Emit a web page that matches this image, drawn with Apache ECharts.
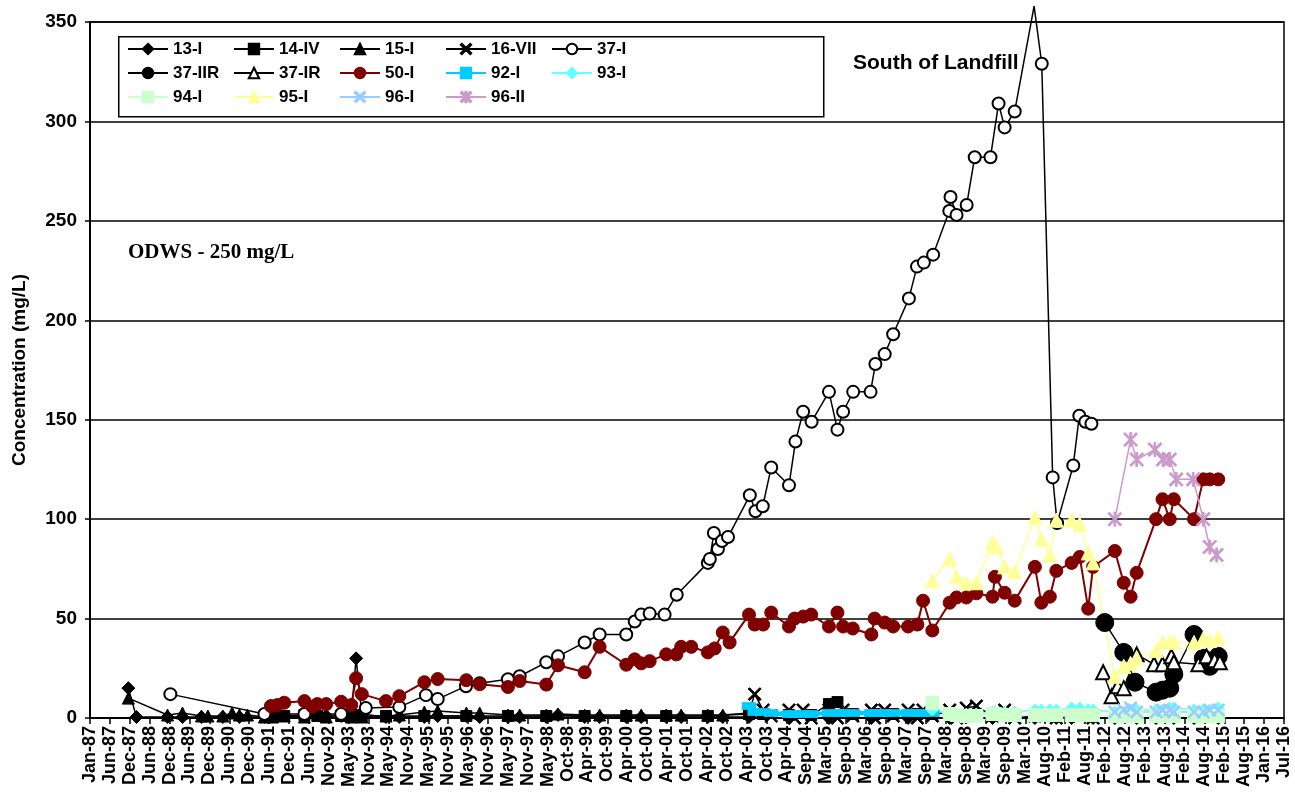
<!DOCTYPE html>
<html>
<head>
    <meta charset="utf-8">
    <title>South of Landfill</title>
    <script src="https://cdn.jsdelivr.net/npm/echarts/dist/echarts.min.js"></script>
    <style>
        body { margin: 0; background: #fff; }
    </style>
</head>
<body>
    <div id="main" style="width: 1295px;height:806px;"></div>
    <script type="text/javascript">
        // sample dates are decimal years, values in mg/L
        const s13I = [[1987.95, 15], [1988.15, 0.5], [1988.92, 0.5], [1989.29, 0.5], [1989.76, 0.5], [1990.29, 0.5], [1990.7, 0.5],
            [1991.32, 0.5], [1991.64, 1], [1992.31, 1], [1992.85, 1], [1993.22, 1], [1993.47, 1], [1993.59, 30], [1993.73, 2],
            [1994.33, 0.5], [1994.66, 0.5], [1995.28, 0.5], [1995.61, 1], [1996.32, 1], [1996.65, 0.5], [1997.35, 0.5], [1997.64, 0.5],
            [1998.3, 0.5], [1998.59, 1.5], [1999.25, 0.5], [1999.62, 0.5], [2000.28, 0.5], [2000.65, 0.5], [2001.27, 0.5], [2001.64, 0.5],
            [2002.3, 0.5], [2002.67, 0.5], [2003.32, 0.5], [2004.31, 0], [2005.3, 0], [2006.35, 0], [2007.26, 0], [2008.29, 0],
            [2009.35, 0], [2010.4, 0], [2010.93, 0], [2011.31, 0], [2011.84, 0], [2012.38, 0], [2012.92, 0], [2013.4, 0],
            [2013.84, 0], [2014.34, 0], [2014.94, 0]];
        const s14IV = [[1991.48, 1], [1991.81, 1], [1992.31, 1.5], [1992.63, 1], [1993.22, 1], [1993.47, 1.5], [1993.73, 1],
            [1994.33, 1], [1995.28, 1], [1996.32, 1], [1997.35, 1], [1998.3, 1], [1999.25, 1], [2000.28, 1], [2001.27, 1],
            [2002.3, 1], [2003.32, 2], [2003.67, 2], [2004.31, 1.5], [2004.86, 1.5], [2005.3, 7], [2005.51, 8], [2005.89, 2],
            [2006.43, 2], [2006.89, 2], [2007.49, 2], [2007.86, 2]];
        const s15I = [[1987.95, 10], [1988.92, 1.5], [1989.29, 2.5], [1989.76, 1], [1989.92, 1], [1990.29, 1], [1990.52, 2.5],
            [1990.7, 1.5], [1990.9, 1.5], [1991.32, 0.5], [1991.52, 0.5], [1991.81, 1], [1992.31, 0.5], [1992.85, 0.5],
            [1993.47, 0.5], [1993.73, 0.5], [1994.33, 1], [1994.66, 1.5], [1995.28, 3], [1995.61, 3.5], [1996.32, 2.5],
            [1996.65, 2.5], [1997.35, 1.5], [1997.64, 1.5], [1998.3, 1.5], [1998.59, 2], [1999.25, 1.5], [1999.62, 1.5],
            [2000.28, 1.5], [2000.65, 1.5], [2001.27, 1.5], [2001.64, 1.5], [2002.3, 1.5], [2002.67, 1.5], [2003.32, 2.5]];
        const s16VII = [[2003.32, 3], [2003.46, 12], [2003.67, 4], [2003.87, 1], [2004.31, 4], [2004.45, 0], [2004.66, 4],
            [2004.86, 0], [2005.3, 4], [2005.51, 0], [2005.65, 4], [2005.89, 1], [2006.35, 4], [2006.43, 0], [2006.68, 4],
            [2006.89, 1], [2007.26, 4], [2007.49, 0], [2007.63, 4], [2007.86, 1], [2008.29, 4], [2008.46, 0], [2008.7, 5],
            [2008.95, 6], [2009.35, 1], [2009.65, 4], [2009.9, 0], [2010.4, 1], [2010.93, 0], [2011.51, 1], [2011.84, 0]];
        const s37I = [[1988.99, 12], [1991.32, 2], [1992.31, 2], [1993.22, 2], [1993.83, 5], [1994.66, 5.5], [1995.32, 11.5],
            [1995.61, 9.5], [1996.31, 16], [1996.65, 17.5], [1997.35, 19.5], [1997.64, 21], [1998.3, 28], [1998.59, 31],
            [1999.25, 38], [1999.62, 42], [2000.28, 42], [2000.49, 48.5], [2000.65, 52], [2000.86, 52.5], [2001.23, 52],
            [2001.53, 62], [2002.3, 78], [2002.35, 80], [2002.45, 93], [2002.55, 85], [2002.65, 89], [2002.8, 91],
            [2003.34, 112], [2003.48, 104], [2003.66, 106.5], [2003.87, 126], [2004.31, 117], [2004.47, 139], [2004.66, 154],
            [2004.87, 149], [2005.3, 164], [2005.51, 145], [2005.65, 154], [2005.9, 164], [2006.33, 164], [2006.45, 178],
            [2006.68, 183], [2006.89, 193], [2007.28, 211], [2007.48, 227], [2007.65, 229], [2007.88, 233], [2008.28, 255],
            [2008.31, 262], [2008.46, 253], [2008.71, 258], [2008.91, 282], [2009.3, 282], [2009.5, 309], [2009.65, 297],
            [2009.9, 305], [2010.38, 358], [2010.57, 329], [2010.84, 121], [2010.95, 98], [2011.35, 127], [2011.5, 152],
            [2011.65, 149], [2011.8, 148]];
        const s37IIR = [[2012.13, 48], [2012.6, 33], [2012.88, 18], [2013.4, 13], [2013.56, 14], [2013.74, 15], [2013.84, 22],
            [2014.34, 42], [2014.57, 30], [2014.73, 26], [2014.94, 31]];
        const s37IR = [[2012.09, 23], [2012.3, 11], [2012.45, 16], [2012.6, 15], [2012.92, 32], [2013.35, 27], [2013.56, 27],
            [2013.78, 31], [2013.84, 28], [2014.45, 27], [2014.65, 31], [2014.85, 29], [2014.98, 28]];
        const s50I = [[1991.48, 6], [1991.64, 6.5], [1991.81, 7.7], [1992.31, 8.5], [1992.51, 5.7], [1992.63, 7], [1992.85, 7],
            [1993.22, 8.2], [1993.47, 6.5], [1993.59, 20], [1993.73, 12], [1994.33, 8.5], [1994.66, 11], [1995.28, 18],
            [1995.61, 19.6], [1996.32, 19], [1996.65, 17], [1997.35, 15.6], [1997.64, 18.6], [1998.3, 16.8], [1998.59, 26.5],
            [1999.25, 23], [1999.62, 35.8], [2000.28, 26.8], [2000.49, 29.5], [2000.65, 27.5], [2000.86, 28.6], [2001.27, 32],
            [2001.52, 32], [2001.64, 35.8], [2001.89, 35.8], [2002.3, 33], [2002.47, 35], [2002.67, 43], [2002.84, 38],
            [2003.32, 52], [2003.46, 47], [2003.67, 47], [2003.87, 53], [2004.31, 46], [2004.45, 50], [2004.66, 51],
            [2004.86, 52], [2005.3, 46], [2005.51, 53], [2005.65, 46], [2005.89, 45], [2006.35, 42], [2006.43, 50],
            [2006.68, 48], [2006.89, 46], [2007.26, 46], [2007.49, 47], [2007.63, 59], [2007.86, 44], [2008.29, 58],
            [2008.46, 60.6], [2008.7, 60.6], [2008.95, 62.7], [2009.35, 61], [2009.41, 71], [2009.65, 63], [2009.9, 59],
            [2010.4, 76], [2010.56, 58], [2010.77, 61], [2010.93, 74], [2011.31, 78], [2011.51, 81], [2011.72, 55],
            [2011.84, 76], [2012.38, 84], [2012.6, 68], [2012.77, 61], [2012.92, 73], [2013.4, 100], [2013.56, 110],
            [2013.74, 100], [2013.84, 110], [2014.34, 100], [2014.57, 120], [2014.73, 120], [2014.94, 120]];
        const s92I = [[2003.32, 6], [2003.46, 3], [2003.67, 3], [2003.87, 2.5], [2004.31, 2], [2004.45, 2], [2004.66, 2],
            [2004.86, 2], [2005.3, 2.5], [2005.51, 2.5], [2005.65, 2.5], [2005.89, 2.5], [2006.35, 2.5], [2006.43, 2.5],
            [2006.68, 2.5], [2006.89, 2.5], [2007.26, 2.5], [2007.49, 2.5], [2007.63, 2.5], [2007.86, 2.5]];
        const s93I = [[2007.86, 4], [2008.29, 2], [2008.46, 2], [2008.7, 2], [2008.95, 2], [2009.35, 3], [2009.41, 3],
            [2009.65, 3], [2009.9, 3], [2010.4, 4], [2010.56, 4], [2010.77, 4], [2010.93, 4], [2011.31, 5], [2011.51, 5],
            [2011.72, 4], [2011.84, 4], [2012.38, 3], [2012.6, 3], [2012.77, 4], [2012.92, 4], [2013.4, 4], [2013.56, 4],
            [2013.74, 5], [2013.84, 5], [2014.34, 4], [2014.57, 4], [2014.73, 4], [2014.94, 5]];
        const s94I = [[2007.86, 7.5], [2008.29, 2], [2008.46, 1.5], [2008.7, 1], [2008.95, 1], [2009.35, 2], [2009.41, 2],
            [2009.65, 1.5], [2009.9, 1.5], [2010.4, 1.5], [2010.56, 1.5], [2010.77, 1.5], [2010.93, 1.5], [2011.31, 1.5],
            [2011.51, 1.5], [2011.72, 1.5], [2011.84, 1.5], [2012.38, 1], [2012.6, 1], [2012.77, 1], [2012.92, 1],
            [2013.4, 1], [2013.56, 1], [2013.74, 1], [2013.84, 1], [2014.34, 1], [2014.57, 1], [2014.73, 1], [2014.94, 1]];
        const s95I = [[2007.86, 69], [2008.29, 80], [2008.46, 71], [2008.7, 68], [2008.95, 68], [2009.35, 88], [2009.45, 86],
            [2009.65, 76], [2009.9, 73.5], [2010.4, 101], [2010.56, 90], [2010.77, 82], [2010.93, 99.5], [2011.31, 99.5],
            [2011.51, 97.5], [2011.72, 83], [2011.84, 78], [2012.38, 21], [2012.6, 26], [2012.77, 27.5], [2012.92, 30],
            [2013.4, 34], [2013.56, 38], [2013.74, 38], [2013.84, 38], [2014.34, 38], [2014.57, 40], [2014.73, 39],
            [2014.94, 40.5]];
        const s96I = [[2012.38, 3], [2012.6, 4], [2012.77, 5], [2012.92, 3], [2013.4, 3], [2013.56, 4], [2013.74, 4],
            [2013.84, 3], [2014.34, 3], [2014.57, 3], [2014.73, 4], [2014.94, 4]];
        const s96II = [[2012.38, 100], [2012.77, 140], [2012.92, 130], [2013.37, 135], [2013.57, 130], [2013.74, 130],
            [2013.9, 120], [2014.32, 120], [2014.57, 100], [2014.73, 86], [2014.9, 82]];

        const yTicks = [0, 350, 50];          // min, max, step
        const xTickDays = 180;                // Excel major unit in days
        const xTickCount = 60;

        const DAY0 = Date.UTC(1987, 0, 1);
        const MONTHS = ['Jan', 'Feb', 'Mar', 'Apr', 'May', 'Jun', 'Jul', 'Aug', 'Sep', 'Oct', 'Nov', 'Dec'];
        const toX = (yr) => (yr - 1987) * 365.25;
        const pts = (arr) => arr.map(p => [toX(p[0]), p[1]]);
        const fmtDay = (d) => {
            const dt = new Date(DAY0 + Math.round(d) * 864e5);
            return MONTHS[dt.getUTCMonth()] + '-' + String(dt.getUTCFullYear()).slice(2);
        };

        const FONT = 'Liberation Sans, Arial, sans-serif';
        // thin cross and asterisk markers
        const X_PATH = 'path://M1,0L5,4L9,0L10,1L6,5L10,9L9,10L5,6L1,10L0,9L4,5L0,1Z';
        const STAR_PATH = 'path://M1,0L5,4L9,0L10,1L6,5L10,9L9,10L5,6L1,10L0,9L4,5L0,1Z M4.4,0L5.6,0L5.6,10L4.4,10Z';

        const mk = (name, data, color, symbol, size, extra) => Object.assign({
            name: name,
            type: 'line',
            data: pts(data),
            symbol: symbol,
            symbolSize: size,
            lineStyle: { color: color, width: 1.5 },
            itemStyle: { color: color, borderColor: color, borderWidth: 1 },
            emphasis: { disabled: true }
        }, extra || {});

        // 37-I peak runs past the top of the axis, no marker shown there
        const s37Idata = pts(s37I).map(p => p[1] > 350 ? { value: p, symbol: 'none' } : p);

        const series = [
            mk('13-I', s13I, '#000', 'diamond', 13),
            mk('14-IV', s14IV, '#000', 'rect', 11),
            mk('15-I', s15I, '#000', 'triangle', 12),
            mk('16-VII', s16VII, '#000', X_PATH, 13),
            mk('37-I', s37I, '#000', 'emptyCircle', 12, { clip: false, itemStyle: { color: '#000', borderColor: '#000', borderWidth: 1.5 } }),
            mk('37-IIR', s37IIR, '#000', 'circle', 18),
            mk('37-IR', s37IR, '#000', 'emptyTriangle', 14, { itemStyle: { color: '#000', borderColor: '#000', borderWidth: 1.5 } }),
            mk('50-I', s50I, '#800000', 'circle', 13, { lineStyle: { color: '#800000', width: 2 } }),
            mk('92-I', s92I, '#00CCFF', 'rect', [13, 7], { lineStyle: { color: '#00CCFF', width: 4 } }),
            mk('93-I', s93I, '#66FFFF', 'diamond', 12),
            mk('94-I', s94I, '#CCFFCC', 'rect', 13),
            mk('95-I', s95I, '#FFFF99', 'triangle', 14),
            mk('96-I', s96I, '#99CCFF', X_PATH, 13),
            mk('96-II', s96II, '#CC99CC', STAR_PATH, 14)
        ];
        series[4].data = s37Idata;

        var myChart = echarts.init(document.getElementById('main'));
        var option = {
            animation: false,
            backgroundColor: '#fff',
            grid: { left: 90, right: 11, top: 22, bottom: 88, show: true, borderColor: '#000', borderWidth: 1.5 },
            legend: {
                left: 127,
                top: 37,
                width: 530,
                padding: 0,
                itemGap: 0,
                itemWidth: 40,
                itemHeight: 13,
                selectedMode: false,
                textStyle: { fontFamily: FONT, fontWeight: 'bold', fontSize: 17, color: '#000', width: 60, lineHeight: 24 },
                data: series.map(s => s.name)
            },
            graphic: [
                {
                    type: 'rect', left: 118, top: 36, z: 0,
                    shape: { width: 705, height: 80 },
                    style: { fill: '#fff', stroke: '#000', lineWidth: 1.5 }
                },
                {
                    type: 'text', left: 853, top: 53,
                    style: { text: 'South of Landfill', fill: '#000', font: 'bold 21px ' + FONT }
                },
                {
                    type: 'text', left: 128, top: 242,
                    style: { text: 'ODWS - 250 mg/L', fill: '#000', font: 'bold 21px Liberation Serif, Times New Roman, serif' }
                }
            ],
            xAxis: {
                type: 'value',
                min: 0,
                max: xTickDays * xTickCount,
                interval: xTickDays,
                axisLine: { onZero: false, lineStyle: { color: '#000', width: 2 } },
                axisTick: { length: 6, lineStyle: { color: '#000', width: 1.5 } },
                axisLabel: { rotate: 90, margin: 8, formatter: fmtDay, fontFamily: FONT, fontWeight: 'bold', fontSize: 18, color: '#000' },
                splitLine: { show: false }
            },
            yAxis: {
                type: 'value',
                min: yTicks[0],
                max: yTicks[1],
                interval: yTicks[2],
                name: 'Concentration (mg/L)',
                nameLocation: 'middle',
                nameGap: 61,
                nameTextStyle: { fontFamily: FONT, fontWeight: 'bold', fontSize: 19, color: '#000' },
                axisLine: { show: true, lineStyle: { color: '#000', width: 2 } },
                axisTick: { show: true, length: 5, lineStyle: { color: '#000', width: 1.5 } },
                axisLabel: { margin: 13, fontFamily: FONT, fontWeight: 'bold', fontSize: 19, color: '#000' },
                splitLine: { lineStyle: { color: '#000', width: 1.5 } }
            },
            series: series
        };
        myChart.setOption(option);
    </script>
</body>
</html>
